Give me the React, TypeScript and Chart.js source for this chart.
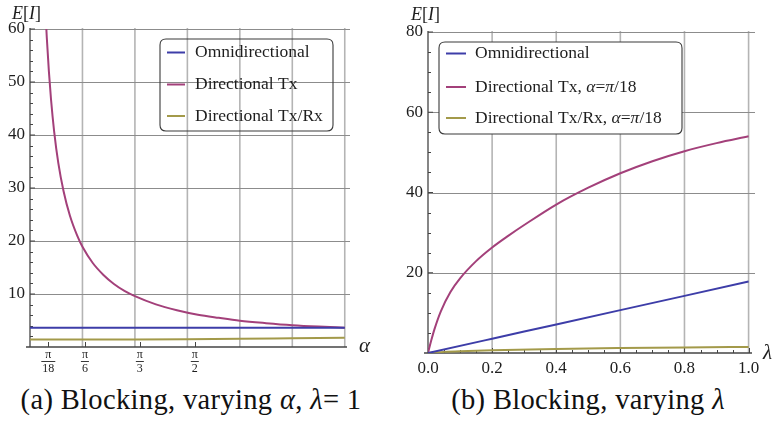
import React, { useEffect, useRef } from 'react';
import { Chart, registerables } from 'chart.js';
Chart.register(...registerables);

// ---------- Data ----------
// Left panel: E[I] versus alpha (lambda = 1)
const ALPHA_OMNI = [0, 0.5, 1, 1.5, 2, 2.5, 3];
const OMNI_ALPHA = [3.64, 3.64, 3.64, 3.64, 3.64, 3.64, 3.64];
const ALPHA_TX = [0.15, 0.16, 0.18, 0.2, 0.23, 0.27, 0.32, 0.38, 0.45, 0.5, 0.6, 0.7, 0.8, 0.9, 1.0, 1.2, 1.4, 1.6, 1.8, 2.0, 2.25, 2.5, 2.75, 3.0];
const TX_ALPHA = [62.3, 58.4, 52.0, 46.8, 40.7, 34.7, 29.4, 24.8, 21.0, 18.9, 15.8, 13.6, 11.9, 10.6, 9.6, 8.05, 6.95, 6.1, 5.5, 4.96, 4.5, 4.12, 3.85, 3.64];
const ALPHA_TXRX = [0, 0.5, 1, 1.5, 2, 2.5, 3];
const TXRX_ALPHA = [1.4, 1.4, 1.42, 1.47, 1.55, 1.65, 1.75];

const ALPHA_TICKS = [Math.PI / 18, Math.PI / 6, Math.PI / 3, Math.PI / 2];
const ALPHA_TICK_NUM = ['π', 'π', 'π', 'π'];
const ALPHA_TICK_DEN = ['18', '6', '3', '2'];
const ALPHA_GRID = [0.5, 1, 1.5, 2, 2.5, 3];
const LEFT_Y_TICKS = [10, 20, 30, 40, 50, 60];
const LEFT_Y_MINOR = [2, 4, 6, 8, 12, 14, 16, 18, 22, 24, 26, 28, 32, 34, 36, 38, 42, 44, 46, 48, 52, 54, 56, 58];

// Right panel: E[I] versus lambda
const LAMBDA_TX = [0, 0.01, 0.02, 0.04, 0.07, 0.1, 0.15, 0.2, 0.25, 0.3, 0.4, 0.5, 0.6, 0.7, 0.8, 0.9, 1.0];
const TX_LAMBDA = [0, 3.1, 5.9, 10.4, 15.2, 18.6, 22.9, 26.3, 29.2, 31.9, 37.0, 41.2, 44.8, 47.8, 50.3, 52.3, 54.0];
const LAMBDA_OMNI = [0, 0.2, 0.4, 0.6, 0.8, 1.0];
const OMNI_LAMBDA = [0, 3.56, 7.12, 10.68, 14.24, 17.8];
const LAMBDA_TXRX = [0, 0.05, 0.1, 0.2, 0.4, 0.6, 0.8, 1.0];
const TXRX_LAMBDA = [0, 0.28, 0.45, 0.68, 1.02, 1.23, 1.38, 1.5];

const LAMBDA_TICKS = [0, 0.2, 0.4, 0.6, 0.8, 1.0];
const LAMBDA_TICK_LABELS = ['0.0', '0.2', '0.4', '0.6', '0.8', '1.0'];
const LAMBDA_MINOR = [0.05, 0.1, 0.15, 0.25, 0.3, 0.35, 0.45, 0.5, 0.55, 0.65, 0.7, 0.75, 0.85, 0.9, 0.95];
const RIGHT_Y_TICKS = [20, 40, 60, 80];
const RIGHT_Y_MINOR = [5, 10, 15, 25, 30, 35, 45, 50, 55, 65, 70, 75];

const LABELS_LEFT = ['Omnidirectional', 'Directional Tx', 'Directional Tx/Rx'];
const LABELS_RIGHT = ['Omnidirectional', 'Directional Tx, α=π/18', 'Directional Tx/Rx, α=π/18'];

const COLORS = ['#3d3da8', '#a3407a', '#a39a4a'];
const SERIF = '"Liberation Serif", "Times New Roman", serif';
Chart.defaults.font.family = SERIF;

function makeDataset(label: string, xs: number[], ys: number[], color: string) {
  return {
    label,
    data: xs.map((x, i) => ({ x, y: ys[i] })),
    borderColor: color,
    backgroundColor: color,
    borderWidth: 2,
    pointRadius: 0,
    cubicInterpolationMode: 'monotone' as const,
    fill: false,
  };
}

function drawRich(ctx: CanvasRenderingContext2D, text: string, x: number, y: number, size: number) {
  let cx = x;
  for (const ch of text) {
    const it = /[αλπEI]/.test(ch);
    ctx.font = `${it ? 'italic ' : ''}${size}px ${SERIF}`;
    ctx.fillText(ch, cx, y);
    cx += ctx.measureText(ch).width;
  }
}

type Decor = {
  vGrid: number[];
  hGrid: number[];
  xMajor: number[];
  xMinor: number[];
  yMajor: number[];
  yMinor: number[];
  fractions: boolean;
  legend: { x: number; y: number; w: number; h: number; lx1: number; lx2: number; tx: number; rows: number[]; bg: boolean };
  yLabel: { x: number; y: number };
  xLabel: { text: string; x: number; y: number };
};

function decorPlugin(d: Decor) {
  return {
    id: 'decor',
    beforeDatasetsDraw(chart: any) {
      const { ctx, chartArea: a, scales } = chart;
      const xs = scales.x, ys = scales.y;
      ctx.save();
      ctx.strokeStyle = '#b4b4b4';
      ctx.lineWidth = 1.6;
      for (const v of d.vGrid) {
        const px = xs.getPixelForValue(v);
        ctx.beginPath(); ctx.moveTo(px, a.top - 1); ctx.lineTo(px, a.bottom); ctx.stroke();
      }
      ctx.strokeStyle = '#8c8c8c';
      ctx.lineWidth = 1;
      for (const v of d.hGrid) {
        const py = Math.round(ys.getPixelForValue(v)) + 0.5;
        ctx.beginPath(); ctx.moveTo(a.left, py); ctx.lineTo(a.right, py); ctx.stroke();
      }
      ctx.strokeStyle = '#444';
      ctx.lineWidth = 1.3;
      ctx.beginPath(); ctx.moveTo(a.left, a.top - 1); ctx.lineTo(a.left, a.bottom); ctx.stroke();
      ctx.beginPath(); ctx.moveTo(a.left - 4, a.bottom); ctx.lineTo(a.right - 3, a.bottom); ctx.stroke();
      ctx.lineWidth = 1;
      for (const v of d.yMajor) {
        const py = ys.getPixelForValue(v);
        ctx.beginPath(); ctx.moveTo(a.left, py); ctx.lineTo(a.left + 5, py); ctx.stroke();
      }
      for (const v of d.yMinor) {
        const py = Math.round(ys.getPixelForValue(v)) + 0.5;
        ctx.beginPath(); ctx.moveTo(a.left, py); ctx.lineTo(a.left + 3, py); ctx.stroke();
      }
      for (const v of d.xMajor) {
        const px = Math.round(xs.getPixelForValue(v)) + 0.5;
        ctx.beginPath(); ctx.moveTo(px, a.bottom); ctx.lineTo(px, a.bottom - 5); ctx.stroke();
      }
      for (const v of d.xMinor) {
        const px = Math.round(xs.getPixelForValue(v)) + 0.5;
        ctx.beginPath(); ctx.moveTo(px, a.bottom); ctx.lineTo(px, a.bottom - 3); ctx.stroke();
      }
      ctx.restore();
    },
    afterDraw(chart: any) {
      const { ctx, chartArea: a, scales } = chart;
      ctx.save();
      if (d.fractions) {
        ctx.strokeStyle = '#222';
        ctx.lineWidth = 0.9;
        ctx.font = `12px ${SERIF}`;
        d.xMajor.forEach((v, i) => {
          const px = scales.x.getPixelForValue(v);
          const w = ctx.measureText(ALPHA_TICK_DEN[i]).width + 2;
          ctx.beginPath(); ctx.moveTo(px - w / 2, a.bottom + 14.5); ctx.lineTo(px + w / 2, a.bottom + 14.5); ctx.stroke();
        });
      }
      const L = d.legend;
      const r = 6;
      ctx.beginPath();
      ctx.moveTo(L.x + r, L.y);
      ctx.lineTo(L.x + L.w - r, L.y);
      ctx.quadraticCurveTo(L.x + L.w, L.y, L.x + L.w, L.y + r);
      ctx.lineTo(L.x + L.w, L.y + L.h - r);
      ctx.quadraticCurveTo(L.x + L.w, L.y + L.h, L.x + L.w - r, L.y + L.h);
      ctx.lineTo(L.x + r, L.y + L.h);
      ctx.quadraticCurveTo(L.x, L.y + L.h, L.x, L.y + L.h - r);
      ctx.lineTo(L.x, L.y + r);
      ctx.quadraticCurveTo(L.x, L.y, L.x + r, L.y);
      ctx.closePath();
      if (L.bg) { ctx.fillStyle = '#ffffff'; ctx.fill(); }
      ctx.strokeStyle = '#3a3a3a';
      ctx.lineWidth = 1.1;
      ctx.stroke();
      chart.data.datasets.forEach((ds: any, i: number) => {
        const y = L.y + L.rows[i];
        ctx.strokeStyle = ds.borderColor;
        ctx.lineWidth = 2;
        ctx.beginPath(); ctx.moveTo(L.x + L.lx1, y); ctx.lineTo(L.x + L.lx2, y); ctx.stroke();
        ctx.fillStyle = '#1e1e1e';
        ctx.textBaseline = 'middle';
        ctx.textAlign = 'left';
        drawRich(ctx, ds.label, L.x + L.tx, y, 17.5);
      });
      ctx.fillStyle = '#1e1e1e';
      ctx.textBaseline = 'middle';
      ctx.textAlign = 'left';
      drawRich(ctx, 'E[I]', d.yLabel.x, d.yLabel.y, 18);
      ctx.font = `italic 21px ${SERIF}`;
      ctx.fillText(d.xLabel.text, d.xLabel.x, d.xLabel.y);
      ctx.restore();
    },
  };
}

function useChart(ref: React.RefObject<HTMLCanvasElement>, build: () => any) {
  useEffect(() => {
    if (!ref.current) return;
    const chart = new Chart(ref.current, build());
    return () => chart.destroy();
  }, []);
}

function LeftChart() {
  const ref = useRef<HTMLCanvasElement>(null);
  useChart(ref, () => ({
    type: 'line',
    data: {
      datasets: [
        makeDataset(LABELS_LEFT[0], ALPHA_OMNI, OMNI_ALPHA, COLORS[0]),
        makeDataset(LABELS_LEFT[1], ALPHA_TX, TX_ALPHA, COLORS[1]),
        makeDataset(LABELS_LEFT[2], ALPHA_TXRX, TXRX_ALPHA, COLORS[2]),
      ],
    },
    options: {
      animation: false,
      responsive: false,
      layout: { padding: { top: 29, right: 35, left: 0, bottom: 0 } },
      plugins: { legend: { display: false }, tooltip: { enabled: false } },
      scales: {
        x: {
          type: 'linear', min: 0, max: 3.05,
          grid: { display: false, drawTicks: false }, border: { display: false },
          afterBuildTicks: (s: any) => { s.ticks = ALPHA_TICKS.map((v) => ({ value: v })); },
          afterFit: (s: any) => { s.height = 33; },
          ticks: {
            autoSkip: false, maxRotation: 0, minRotation: 0, padding: 1, color: '#1e1e1e',
            font: { size: 12, lineHeight: 1.17 },
            callback: (_v: any, i: number) => [ALPHA_TICK_NUM[i], ALPHA_TICK_DEN[i]],
          },
        },
        y: {
          type: 'linear', min: 0, max: 60,
          grid: { display: false, drawTicks: false }, border: { display: false },
          afterBuildTicks: (s: any) => { s.ticks = LEFT_Y_TICKS.map((v) => ({ value: v })); },
          afterFit: (s: any) => { s.width = 30; },
          ticks: { padding: 5, color: '#1e1e1e', font: { size: 17 }, callback: (v: any) => String(v) },
        },
      },
    },
    plugins: [decorPlugin({
      vGrid: ALPHA_GRID, hGrid: LEFT_Y_TICKS,
      xMajor: ALPHA_TICKS, xMinor: [], yMajor: LEFT_Y_TICKS, yMinor: LEFT_Y_MINOR,
      fractions: true,
      legend: { x: 160, y: 39, w: 173, h: 92, lx1: 7, lx2: 25, tx: 35, rows: [13.5, 45.5, 77], bg: false },
      yLabel: { x: 12, y: 14 },
      xLabel: { text: 'α', x: 359, y: 346 },
    })],
  }));
  return <canvas ref={ref} width={385} height={380} style={{ position: 'absolute', left: 0, top: 0 }} />;
}

function RightChart() {
  const ref = useRef<HTMLCanvasElement>(null);
  useChart(ref, () => ({
    type: 'line',
    data: {
      datasets: [
        makeDataset(LABELS_RIGHT[0], LAMBDA_OMNI, OMNI_LAMBDA, COLORS[0]),
        makeDataset(LABELS_RIGHT[1], LAMBDA_TX, TX_LAMBDA, COLORS[1]),
        makeDataset(LABELS_RIGHT[2], LAMBDA_TXRX, TXRX_LAMBDA, COLORS[2]),
      ],
    },
    options: {
      animation: false,
      responsive: false,
      layout: { padding: { top: 32, right: 18, left: 0, bottom: 0 } },
      plugins: { legend: { display: false }, tooltip: { enabled: false } },
      scales: {
        x: {
          type: 'linear', min: 0, max: 1.02,
          grid: { display: false, drawTicks: false }, border: { display: false },
          afterBuildTicks: (s: any) => { s.ticks = LAMBDA_TICKS.map((v) => ({ value: v })); },
          afterFit: (s: any) => { s.height = 27; },
          ticks: {
            autoSkip: false, maxRotation: 0, minRotation: 0, padding: 7, color: '#1e1e1e',
            font: { size: 17, lineHeight: 1 },
            callback: (_v: any, i: number) => LAMBDA_TICK_LABELS[i],
          },
        },
        y: {
          type: 'linear', min: 0, max: 80,
          grid: { display: false, drawTicks: false }, border: { display: false },
          afterBuildTicks: (s: any) => { s.ticks = RIGHT_Y_TICKS.map((v) => ({ value: v })); },
          afterFit: (s: any) => { s.width = 43; },
          ticks: { padding: 5, color: '#1e1e1e', font: { size: 17 }, callback: (v: any) => String(v) },
        },
      },
    },
    plugins: [decorPlugin({
      vGrid: LAMBDA_TICKS.slice(1), hGrid: RIGHT_Y_TICKS,
      xMajor: LAMBDA_TICKS, xMinor: LAMBDA_MINOR, yMajor: RIGHT_Y_TICKS, yMinor: RIGHT_Y_MINOR,
      fractions: false,
      legend: { x: 54, y: 42, w: 243, h: 92, lx1: 7, lx2: 27, tx: 36, rows: [11.5, 45, 76], bg: true },
      yLabel: { x: 26, y: 15 },
      xLabel: { text: 'λ', x: 378, y: 353 },
    })],
  }));
  return <canvas ref={ref} width={388} height={380} style={{ position: 'absolute', left: 385, top: 0 }} />;
}

const captionStyle: React.CSSProperties = {
  position: 'absolute', top: 383, height: 34, lineHeight: '34px', textAlign: 'center',
  fontFamily: SERIF, fontSize: 28.5, color: '#111', whiteSpace: 'nowrap', letterSpacing: '0.35px',
};

export default function App() {
  return (
    <div style={{ position: 'fixed', left: 0, top: 0, width: 773, height: 422, background: '#fff', overflow: 'hidden' }}>
      <LeftChart />
      <RightChart />
      <div style={{ ...captionStyle, left: 0, width: 382 }}>
        (a) Blocking, varying <i>α</i>, <i>λ</i>= 1
      </div>
      <div style={{ ...captionStyle, left: 390, width: 396 }}>
        (b) Blocking, varying <i>λ</i>
      </div>
    </div>
  );
}
